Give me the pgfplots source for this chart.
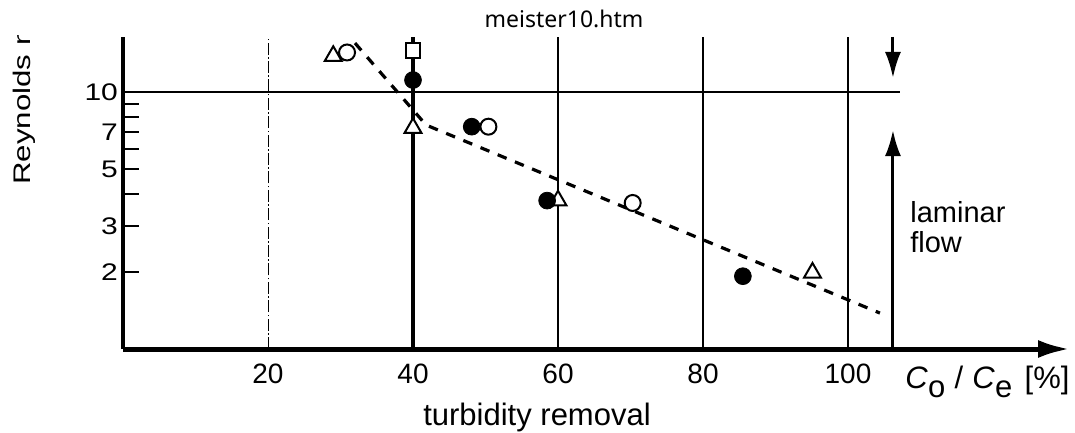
\documentclass[border=0pt]{standalone}
\usepackage{fontspec}
\setmainfont{Liberation Sans}
\newfontfamily\titlefont{Noto Sans}
\usepackage{graphicx}
\usepackage{pgfplots}
\pgfplotsset{compat=1.18}
\usetikzlibrary{arrows.meta}

\begin{document}
\begin{tikzpicture}
\begin{scope}
\clip (-61.5pt,-42pt) -- (476pt,-42pt) -- (476pt,174.5pt) -- (-20pt,174.5pt) -- (-20pt,157pt) -- (-61.5pt,157pt) -- cycle;
\begin{axis}[
  scale only axis, width=473.5pt, height=156pt,
  xmin=0, xmax=130.62, ymin=1, ymax=16.37, ymode=log,
  clip mode=individual,
  axis x line=bottom, axis y line*=left,
  x axis line style={line width=2.5pt, -{Latex[length=16pt,width=9pt]}},
  y axis line style={line width=2.2pt},
  /pgf/number format/assume math mode=true,
  xtick={20,40,60,80,100},
  x tick style={draw=none},
  xticklabel style={font=\fontsize{14}{15}\selectfont, yshift=-4pt},
  ytick={2,3,4,5,6,7,8,9,10},
  yticklabels={2,3,,5,,7,,,10},
  minor ytick={},
  tick align=inside,
  major tick length=8pt,
  y tick style={line width=1.1pt, black},
  yticklabel style={font=\fontsize{15}{16}\selectfont, yscale=0.8, xshift=1pt},
  title={meister10.htm},
  every axis title/.style={at={(axis description cs:0.4657,1.032)}, anchor=base, font=\titlefont\fontsize{11.5}{12}\selectfont},
  xlabel={turbidity removal},
  every axis x label/.style={at={(axis description cs:0.4372,-0.2436)}, anchor=base, font=\fontsize{15.5}{16}\selectfont},
  ylabel={\scalebox{1.3}[1]{Reynolds number}},
  every axis y label/.style={at={(axis description cs:-0.0976,0.5256)}, anchor=base west, rotate=90, inner sep=0pt, font=\fontsize{12}{13}\selectfont},
]
% grid lines
\addplot[black, line width=0.5pt, dash pattern=on 6pt off 1.2pt on 0.8pt off 1.2pt] coordinates {(20,1) (20,16.37)};
\addplot[black, line width=2pt] coordinates {(40,1) (40,16.37)};
\addplot[black, line width=1.3pt] coordinates {(60,1) (60,16.37)};
\addplot[black, line width=0.6pt] coordinates {(80,1) (80,16.37)};
\addplot[black, line width=0.6pt] coordinates {(100,1) (100,16.37)};
\addplot[black, line width=1.3pt] coordinates {(0,10) (107.2,10)};
% dashed trend
\addplot[black, line width=1.6pt, dash pattern=on 4.8pt off 4.5pt] coordinates {(32.0,15.5) (41.8,7.44) (104.4,1.38)};
% arrows
\addplot[black, line width=1.5pt, -{Latex[length=13pt,width=8pt]}] coordinates {(106.2,16.37) (106.2,11.34)};
\addplot[black, line width=1.5pt, -{Latex[length=13pt,width=8pt]}] coordinates {(106.2,1) (106.2,7.11)};
% open triangles
\addplot[only marks, mark=triangle*, mark size=4.9pt, mark options={fill=white, draw=black, line width=1pt}] coordinates {(29.0,13.8) (40,7.24) (60,3.78) (95.1,1.98)};
% open circles
\addplot[only marks, mark=*, mark size=4pt, mark options={fill=white, draw=black, line width=1pt}] coordinates {(30.9,14.25) (50.4,7.33) (70.3,3.70)};
% filled circles
\addplot[only marks, mark=*, mark size=4.2pt, mark options={fill=black, draw=black}] coordinates {(40,11.13) (48.1,7.33) (58.5,3.78) (85.5,1.92)};
% open square
\addplot[only marks, mark=square*, mark size=3.6pt, mark options={fill=white, draw=black, line width=1pt}] coordinates {(40,14.48)};
% texts
\node[anchor=base west, inner sep=0pt, font=\fontsize{14.5}{15}\selectfont] at (axis description cs:0.831,0.407) {laminar};
\node[anchor=base west, inner sep=0pt, font=\fontsize{14.5}{15}\selectfont] at (axis description cs:0.831,0.3077) {flow};
\node[anchor=base west, inner sep=0pt, font=\fontsize{15.5}{16}\selectfont] at (axis description cs:0.8258,-0.125) {\textit{C}\raisebox{-0.3em}{o}\hspace{0.3em}/\hspace{0.3em}\textit{C}\raisebox{-0.3em}{e}\hspace{0.4em}[\%]};
\end{axis}
\end{scope}
\pgfresetboundingbox
\useasboundingbox (-61.5pt,-42pt) rectangle (476pt,174.5pt);
\end{tikzpicture}
\end{document}
